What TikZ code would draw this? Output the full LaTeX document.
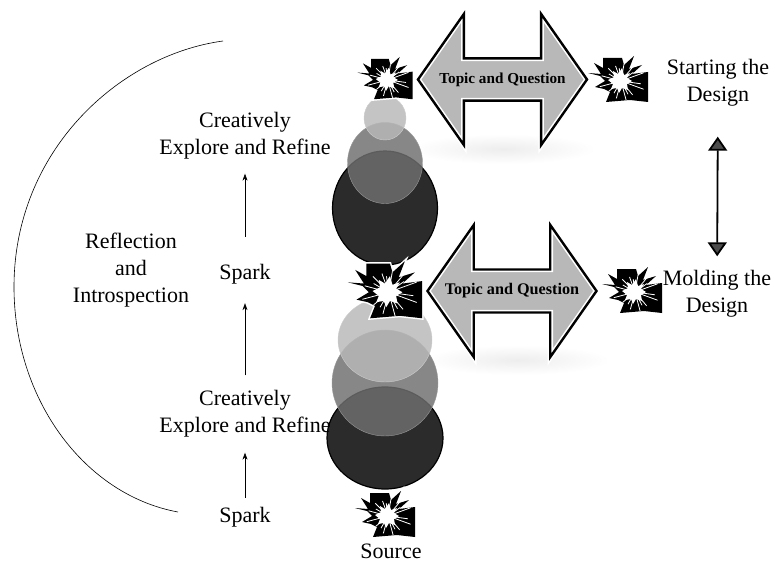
\documentclass[tikz,border=0pt]{standalone}
\usepackage{fontspec}
\setmainfont{Liberation Serif}
\usetikzlibrary{arrows.meta,shapes.arrows,shapes.geometric}
\definecolor{arrowgray}{gray}{0.72}
\definecolor{lightball}{gray}{0.72}
\definecolor{midball}{gray}{0.435}
\definecolor{darkball}{gray}{0.17}
\definecolor{headgray}{gray}{0.3}
\tikzset{
  spark/.pic={
    \path[fill=black,line join=round,preaction={draw=white,line width=3pt}]
      (-30,-7) -- (-17,-6) -- (-24,-17) -- (-15,-12) -- (-15,-22) -- (4,-22) -- (6,-15)
      -- (16,-24) -- (11,-11) -- (24,-15) -- (14,-6) -- (30,-8) -- (30,22) -- (12,20)
      -- (-12,22) -- (-8,12) -- (-14,9) -- (-23,7) -- (-13,1) -- (-18,-4) -- cycle;
    \foreach \ang/\len in {20/24, 50/18, 75/20, 105/18, 140/16, 165/22, 195/20, 225/18,
      250/16, 280/17, 310/20, 340/24, 8/20, 62/15, 120/14, 210/14, 262/13, 325/15} {
      \draw[white,line width=0.8pt] (3,1) -- ++(\ang:\len);
    }
    \fill[white] (14,1) -- (9,4) -- (10,10) -- (4,8) -- (1,13) -- (-1,8) -- (-7,9) -- (-5,4)
      -- (-10,0) -- (-4,-3) -- (-5,-9) -- (0,-6) -- (4,-12) -- (6,-5) -- (12,-7) -- (9,-2) -- cycle;
  }
}
\begin{document}
\begin{tikzpicture}
[x=1pt,y=-1pt,
  ballnode/.style={shape=ellipse,inner sep=0pt,fill opacity=0.83},%
  labelnode/.style={align=center,inner sep=0pt,font=\fontsize{22}{27}\selectfont},%
  topicarrow/.style={shape=double arrow,double arrow head extend=44.5pt,
    double arrow tip angle=110,minimum height=169pt,minimum width=127pt,inner xsep=0pt,
    inner ysep=13pt,draw=black,line width=2.4pt,
    preaction={fill=arrowgray,draw=white,line width=5.5pt}},%
  floornode/.style={shape=ellipse,inner sep=0pt,minimum width=185pt,minimum height=30pt,
    inner color=black!7,outer color=white},%
  smallarrow/.style={-{Stealth[length=7pt,width=5pt]},semithick},%
  bigarrow/.style={{Triangle[length=14pt,width=19pt,fill=headgray]}-{Triangle[length=14pt,width=19pt,fill=headgray]},
    line width=1.8pt}]
\useasboundingbox (0,0) rectangle (775,564);
%% shadows under the arrows
\foreach \nodename/\x/\y in {floorA/503/149, floorB/517/360} {
  \node (\nodename) at (\x,\y) [floornode] {};
}
%% balls
\node (ballA) at (385,208) [ballnode,fill=darkball,draw=black,line width=1.2pt,fill opacity=1,
  minimum width=105pt,minimum height=114pt] {};
\node (ballB) at (385,163) [ballnode,fill=midball,draw=white!60!black,
  minimum width=75pt,minimum height=81pt] {};
\node (ballC) at (385,118) [ballnode,fill=lightball,draw=white!80!black,
  minimum width=42pt,minimum height=44pt] {};
\node (ballD) at (385,438) [ballnode,fill=darkball,draw=black,line width=1.2pt,fill opacity=1,
  minimum width=116pt,minimum height=102pt] {};
\node (ballE) at (385,383) [ballnode,fill=midball,draw=white!60!black,
  minimum width=106pt,minimum height=106pt] {};
\node (ballF) at (385,340) [ballnode,fill=lightball,draw=white!80!black,
  minimum width=94pt,minimum height=84pt] {};
%% sparks
\foreach \sparkname/\x/\y/\s in {sparkA/385/79/0.92, sparkB/618/80/1, sparkC/632/291/1,
  sparkD/385/291/1.24, sparkE/385/515/1} {
  \pic (\sparkname) at (\x,\y) [scale=\s] {spark};
}
%% arrows with the topic
\foreach \nodename/\x/\y/\fs in {topicA/502.5/79.5/15.2, topicB/512/291/16.2} {
  \node (\nodename) at (\x,\y) [topicarrow,font=\fontsize{\fs}{16}\selectfont\bfseries] {Topic and Question};
}
%% labels
\foreach \nodename/\x/\y/\labeltext in {exploreA/245/136/Creatively\\Explore and Refine,
  sparkTextA/245/274/Spark, exploreB/245/414/Creatively\\Explore and Refine,
  sparkTextB/245/517/Spark, reflect/131/270/Reflection\\and\\Introspection,
  source/391/551/Source, startDesign/718/83/Starting the\\Design,
  moldDesign/717/294/Molding the\\Design} {
  \node (\nodename) at (\x,\y) [labelnode] {\labeltext};
}
%% edges
\path
\foreach \startnode/\endnode/\gapa/\gapb in {sparkTextB/exploreB/9/15, exploreB/sparkTextA/15/19,
  sparkTextA/exploreA/27/14} {
  (\startnode) edge[smallarrow,shorten <=\gapa pt,shorten >=\gapb pt] node {} (\endnode)
};
\draw[bigarrow,shorten <=30pt,shorten >=14pt] (startDesign) -- (moldDesign);
%% reflection arc
\coordinate (arcTop) at (223,41);
\coordinate (arcMid) at (14,287);
\coordinate (arcBottom) at (178,512);
\draw[semithick] (arcTop) .. controls (120,55) and (14,150) .. (arcMid)
  .. controls (14,400) and (85,495) .. (arcBottom);
\end{tikzpicture}
\end{document}
